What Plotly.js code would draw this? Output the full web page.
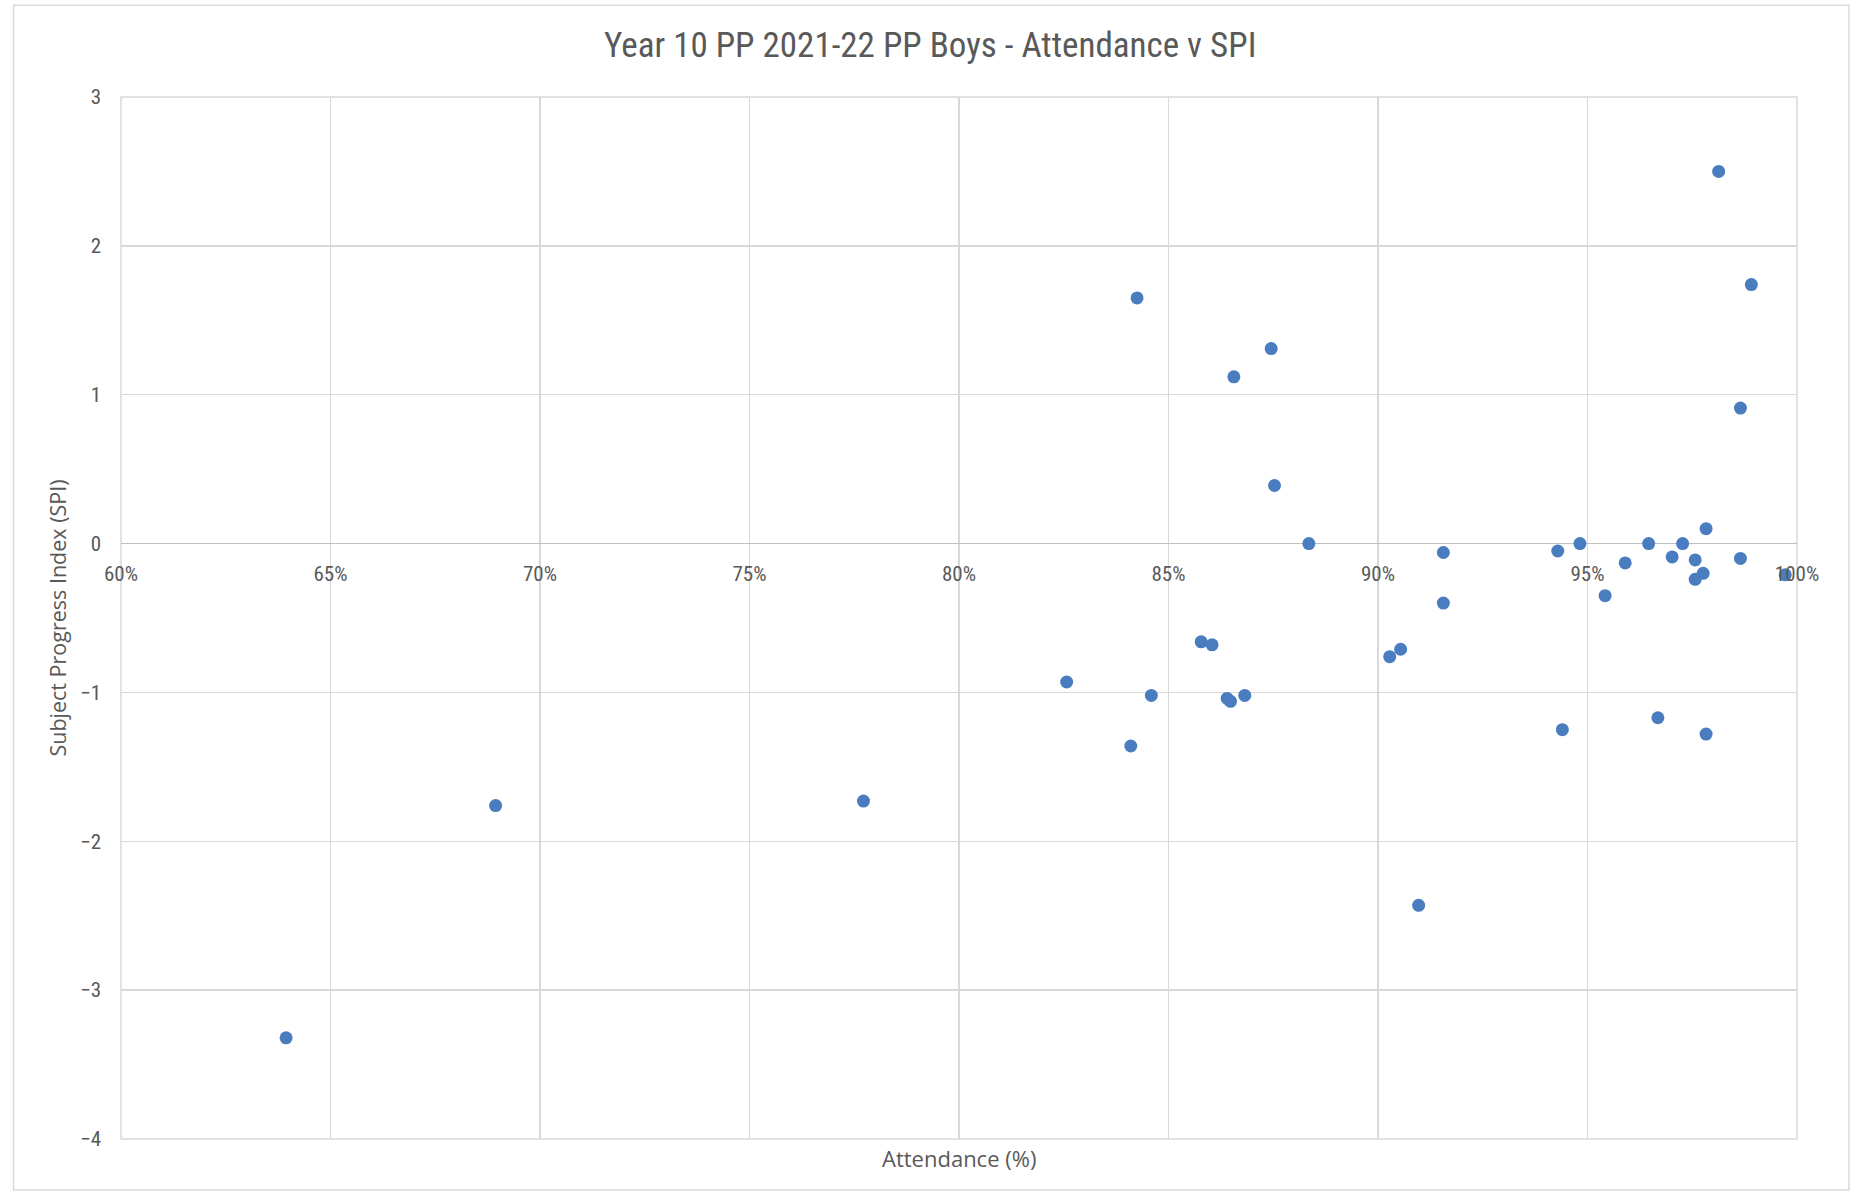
<!DOCTYPE html>
<html>
<head>
<meta charset="utf-8">
<script src="https://cdn.plot.ly/plotly-3.0.1.min.js"></script>
<style>
  html, body { margin: 0; padding: 0; background: #ffffff; }
  #chart { width: 1853px; height: 1192px; }
</style>
</head>
<body>
<div id="chart"></div>
<script>
// Year 10 PP boys, 2021-22: attendance (%) against Subject Progress Index
const attendance = [63.94, 68.94, 77.72, 82.57, 84.10, 84.25, 84.59, 85.78, 86.04, 86.40,
                    86.48, 86.56, 86.82, 87.45, 87.53, 88.35, 90.28, 90.54, 90.97, 91.56,
                    91.56, 94.29, 94.40, 94.82, 95.42, 95.90, 96.46, 96.68, 97.02, 97.27,
                    97.57, 97.57, 97.76, 97.83, 97.83, 98.13, 98.65, 98.65, 98.91, 99.72];
const spi = [-3.32, -1.76, -1.73, -0.93, -1.36, 1.65, -1.02, -0.66, -0.68, -1.04,
             -1.06, 1.12, -1.02, 1.31, 0.39, 0.00, -0.76, -0.71, -2.43, -0.06,
             -0.40, -0.05, -1.25, 0.00, -0.35, -0.13, 0.00, -1.17, -0.09, 0.00,
             -0.11, -0.24, -0.20, 0.10, -1.28, 2.50, 0.91, -0.10, 1.74, -0.21];

const xRange = [60, 100];
const yRange = [-4, 3];
const xTicks = [60, 65, 70, 75, 80, 85, 90, 95, 100];
const xTickLabels = ['60%', '65%', '70%', '75%', '80%', '85%', '90%', '95%', '100%'];
const yTicks = [-4, -3, -2, -1, 0, 1, 2, 3];

const chartTitle = 'Year 10 PP 2021-22 PP Boys - Attendance v SPI';
const xTitle = 'Attendance (%)';
const yTitle = 'Subject Progress Index (SPI)';

const narrow = '"Liberation Sans Narrow", "Arial Narrow", "Roboto Condensed", "Liberation Sans", sans-serif';
const wide = '"Open Sans", "Noto Sans", sans-serif';
const textGrey = '#595959';
const gridGrey = '#d9d9d9';

const trace = {
  type: 'scatter',
  mode: 'markers',
  x: attendance,
  y: spi,
  marker: { color: '#4a7dbf', size: 13 },
  hoverinfo: 'x+y'
};

// the category axis crosses the value axis at zero
const zeroPos = (0 - yRange[0]) / (yRange[1] - yRange[0]);

const layout = {
  width: 1853,
  height: 1192,
  margin: { l: 121, r: 56, t: 97, b: 53 },
  paper_bgcolor: '#ffffff',
  plot_bgcolor: '#ffffff',
  showlegend: false,
  title: {
    text: chartTitle,
    font: { family: narrow, size: 35, color: textGrey },
    x: 0.502, xref: 'container', xanchor: 'center',
    y: 1 - 45 / 1192, yref: 'container', yanchor: 'middle'
  },
  xaxis: {
    range: xRange,
    tickvals: xTicks,
    ticktext: xTickLabels,
    showgrid: true,
    gridcolor: gridGrey,
    gridwidth: 1.5,
    zeroline: false,
    showline: false,
    anchor: 'free',
    position: zeroPos,
    ticks: '',
    ticklabelstandoff: 15,
    tickfont: { family: narrow, size: 21, color: textGrey },
    fixedrange: true
  },
  yaxis: {
    range: yRange,
    tickvals: yTicks,
    showgrid: true,
    gridcolor: gridGrey,
    gridwidth: 1.5,
    zeroline: true,
    zerolinecolor: '#bfbfbf',
    zerolinewidth: 1.5,
    showline: false,
    ticks: '',
    ticklabelstandoff: 19,
    tickfont: { family: narrow, size: 21, color: textGrey },
    title: {
      text: yTitle,
      font: { family: wide, size: 21.5, color: textGrey },
      standoff: 7
    },
    fixedrange: true
  },
  annotations: [{
    text: xTitle,
    xref: 'paper', yref: 'paper',
    x: 0.5, y: 0,
    xanchor: 'center', yanchor: 'middle',
    yshift: -19,
    showarrow: false,
    font: { family: wide, size: 22, color: textGrey }
  }],
  shapes: [
    // plot area outline follows the outer gridlines
    { type: 'rect', xref: 'paper', yref: 'paper', x0: 0, x1: 1, y0: 0, y1: 1,
      line: { color: gridGrey, width: 1.5 }, layer: 'below' },
    // chart frame
    { type: 'rect', xref: 'paper', yref: 'paper',
      x0: -0.0641, x1: 1.031, y0: -0.049, y1: 1.0881,
      line: { color: gridGrey, width: 1.5 }, layer: 'below' }
  ]
};

Plotly.newPlot('chart', [trace], layout, { displayModeBar: false, staticPlot: true });
</script>
</body>
</html>
